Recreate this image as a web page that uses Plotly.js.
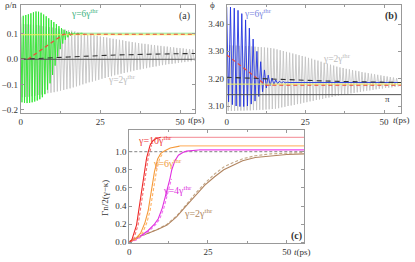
<!DOCTYPE html>
<html><head><meta charset="utf-8">
<script src="https://cdn.plot.ly/plotly-3.0.1.min.js"></script>
<style>html,body{margin:0;padding:0;background:#fff}#p{width:415px;height:262px}</style>
</head><body><div id="p"></div>
<script>
// ---------- panel (a): rho/n ----------
const tTop = [0,1,2,3,4,5,6,7,8,9,10,11,12,13,14,15,16,17,18,19,20,21,22,23,24,25,26,27,28,29,30,31,32,33,34,35,36,37,38,39,40,41,42,43,44,45,46,47,48,49,50,51,52,53,54];
const tBot = [0.5,1.5,2.5,3.5,4.5,5.5,6.5,7.5,8.5,9.5,10.5,11.5,12.5,13.5,14.5,15.5,16.5,17.5,18.5,19.5,20.5,21.5,22.5,23.5,24.5,25.5,26.5,27.5,28.5,29.5,30.5,31.5,32.5,33.5,34.5,35.5,36.5,37.5,38.5,39.5,40.5,41.5,42.5,43.5,44.5,45.5,46.5,47.5,48.5,49.5,50.5,51.5,52.5,53.5,54.5];
const grayA_top = [0.140,0.139,0.138,0.137,0.136,0.135,0.133,0.131,0.129,0.127,0.125,0.123,0.121,0.119,0.117,0.115,0.113,0.110,0.108,0.105,0.103,0.100,0.098,0.095,0.093,0.090,0.088,0.086,0.083,0.081,0.079,0.077,0.075,0.072,0.070,0.068,0.066,0.064,0.062,0.061,0.059,0.057,0.056,0.054,0.053,0.051,0.050,0.048,0.047,0.045,0.044,0.043,0.041,0.040,0.039];
const grayA_bot = [-0.150,-0.149,-0.148,-0.146,-0.144,-0.141,-0.139,-0.137,-0.134,-0.132,-0.130,-0.127,-0.124,-0.121,-0.118,-0.115,-0.111,-0.107,-0.103,-0.099,-0.095,-0.091,-0.088,-0.084,-0.081,-0.077,-0.074,-0.070,-0.067,-0.063,-0.060,-0.057,-0.054,-0.051,-0.048,-0.045,-0.042,-0.040,-0.037,-0.035,-0.032,-0.030,-0.028,-0.025,-0.023,-0.021,-0.019,-0.018,-0.016,-0.014,-0.012,-0.011,-0.009,-0.008,-0.006];
const greenTopT = [0,0.8,1.6,2.4,3.2,4,4.8,5.6,6.4,7.2,8,8.8,9.6,10.4,11.2,12,12.8,13.6,14.4,15.2,16,16.8,17.6,18.4,19.2];
const greenBotT = [0.4,1.2,2,2.8,3.6,4.4,5.2,6,6.8,7.6,8.4,9.2,10,10.8,11.6,12.4,13.2,14,14.8,15.6,16.4,17.2,18,18.8,19.6];
const green_top = [0.168,0.172,0.175,0.178,0.182,0.186,0.189,0.188,0.184,0.177,0.170,0.162,0.155,0.147,0.139,0.131,0.123,0.117,0.112,0.108,0.106,0.105,0.104,0.103,0.103];
const green_bot = [-0.170,-0.172,-0.173,-0.172,-0.170,-0.167,-0.163,-0.158,-0.150,-0.138,-0.120,-0.095,-0.062,-0.025,0.010,0.040,0.062,0.077,0.087,0.093,0.097,0.099,0.101,0.102,0.103];
const greenFlatT = [19.6, 54.7];
const greenFlat = [0.103, 0.103];
const yellowA_t = [0, 54.7];
const yellowA = [0.097, 0.097];
const redA_t = [0, 2.2, 13.4, 54.7];
const redA = [0, 0, 0.099, 0.099];
const blackA_t = [0, 5, 10, 15, 20, 25, 30, 40, 50, 54.7];
const blackA = [0, 0.002, 0.005, 0.009, 0.012, 0.015, 0.017, 0.020, 0.022, 0.023];
const zeroA_t = [0, 54.7];
const zeroA = [0, 0];

// ---------- panel (b): phi ----------
const grayB_top = [3.322,3.322,3.321,3.321,3.320,3.320,3.319,3.319,3.318,3.317,3.316,3.315,3.314,3.313,3.312,3.310,3.307,3.304,3.301,3.298,3.295,3.292,3.289,3.286,3.283,3.280,3.276,3.273,3.269,3.266,3.262,3.258,3.255,3.251,3.248,3.244,3.241,3.239,3.236,3.234,3.231,3.229,3.227,3.224,3.222,3.220,3.218,3.216,3.214,3.212,3.210,3.208,3.206,3.204,3.202];
const grayB_bot = [3.082,3.082,3.082,3.083,3.083,3.083,3.084,3.084,3.085,3.085,3.086,3.086,3.087,3.088,3.089,3.090,3.092,3.095,3.097,3.100,3.102,3.104,3.107,3.109,3.112,3.114,3.117,3.119,3.122,3.124,3.126,3.129,3.131,3.133,3.136,3.138,3.140,3.142,3.144,3.146,3.148,3.150,3.152,3.154,3.156,3.157,3.159,3.161,3.163,3.164,3.166,3.167,3.168,3.170,3.171];
const blueTopT = [0,1.2,2.4,3.6,4.8,6,7.2,8.4,9.6,10.8,12,13.2,14.4,15.6,16.8,18,19.2];
const blueBotT = [0.6,1.8,3,4.2,5.4,6.6,7.8,9,10.2,11.4,12.6,13.8,15,16.2,17.4,18.6,19.8];
const blue_top = [3.462,3.462,3.458,3.450,3.438,3.415,3.385,3.345,3.300,3.262,3.232,3.213,3.202,3.195,3.191,3.189,3.187];
const blue_bot = [3.115,3.105,3.100,3.098,3.098,3.100,3.107,3.118,3.135,3.152,3.166,3.175,3.179,3.182,3.184,3.185,3.186];
const blueFlatT = [19.8, 55.4];
const blueFlat = [3.186, 3.186];
const yellowB_t = [0, 55.4];
const yellowB = [3.180, 3.180];
const redB_t = [0, 12.5, 55.4];
const redB = [3.287, 3.176, 3.176];
const blackB_t = [0, 10, 20, 30, 40, 55.4];
const blackB = [3.205, 3.200, 3.196, 3.192, 3.189, 3.186];
const piB_t = [0, 55.4];
const piB = [Math.PI, Math.PI];

// ---------- panel (c): Gamma n / 2(gamma-kappa) ----------
const r10_t = [0, 0.8, 2.3, 3.9, 5.5, 6.6, 7.5, 8.5, 10];
const r10 = [0.0, 0.025, 0.19, 0.56, 0.93, 1.07, 1.12, 1.145, 1.157];
const r10d_t = [0, 1.3, 2.8, 4.4, 6.0, 7.1];
const r10d = [0.0, 0.025, 0.19, 0.56, 0.93, 1.07];
const r10a_t = [10, 55.5];
const r10a = [1.157, 1.157];
const o6_t = [0, 2, 3.6, 5, 6, 7, 8, 9, 10, 11.3, 13, 16];
const o6 = [0.0, 0.04, 0.1, 0.22, 0.35, 0.55, 0.78, 0.92, 0.98, 1.01, 1.04, 1.06];
const o6d_t = [0, 2.6, 4.2, 5.6, 6.6, 7.6, 8.6, 9.6, 10.6];
const o6d = [0.0, 0.04, 0.1, 0.22, 0.35, 0.55, 0.78, 0.92, 0.98];
const o6a_t = [16, 55.5];
const o6a = [1.062, 1.062];
const m4_t = [0, 2, 4, 6, 8, 9.2, 10.5, 11.9, 12.9, 13.5, 14.5, 15.6, 17, 18.2, 20, 22];
const m4 = [0, 0.03, 0.08, 0.13, 0.2, 0.26, 0.38, 0.56, 0.7, 0.8, 0.9, 0.96, 0.99, 1.005, 1.015, 1.018];
const m4d_t = [0, 2.5, 4.5, 6.5, 8.5, 9.7, 11, 12.4, 13.4];
const m4d = [0, 0.03, 0.08, 0.13, 0.2, 0.26, 0.38, 0.56, 0.7];
const m4a_t = [22, 55.5];
const m4a = [1.018, 1.018];
const b2_t = [0, 3, 6, 9, 12, 15, 18, 21, 24, 27, 30, 33, 36, 40, 45, 50, 55.5];
const b2 = [0.01, 0.06, 0.1, 0.14, 0.19, 0.28, 0.4, 0.52, 0.63, 0.72, 0.8, 0.85, 0.9, 0.935, 0.955, 0.968, 0.975];
const b2d = [0.01, 0.06, 0.1, 0.145, 0.2, 0.29, 0.41, 0.54, 0.65, 0.75, 0.83, 0.88, 0.92, 0.955, 0.975, 0.985, 0.99];
const one_t = [0, 55.5];
const one = [1, 1];

const xTickVals = [0, 25, 50];
const xTickText = ['0', '25', '50'];

function zig(tT, top, tB, bot) {
  const x = [], y = [];
  for (let i = 0; i < top.length; i++) {
    x.push(tT[i]); y.push(top[i]);
    if (i < bot.length) { x.push(tB[i]); y.push(bot[i]); }
  }
  return {x, y};
}
function line(x, y, xa, ya, color, width, dash) {
  return {x, y, xaxis: xa, yaxis: ya, type: 'scatter', mode: 'lines',
    line: {color, width, dash: dash || 'solid'}, hoverinfo: 'skip', showlegend: false};
}

const gA = zig(tTop, grayA_top, tBot, grayA_bot);
const grA = zig(greenTopT, green_top, greenBotT, green_bot);
const gB = zig(tTop, grayB_top, tBot, grayB_bot);
const blB = zig(blueTopT, blue_top, blueBotT, blue_bot);

const traces = [
  line(gA.x, gA.y, 'x', 'y', '#c4c4c4', 0.9),
  line(grA.x, grA.y, 'x', 'y', '#2ee62e', 0.9),
  line(greenFlatT, greenFlat, 'x', 'y', '#8fe88f', 1),
  line(yellowA_t, yellowA, 'x', 'y', '#f0f060', 1),
  line(redA_t, redA, 'x', 'y', '#ee4a3a', 1.2, '4px,3px'),
  line(blackA_t, blackA, 'x', 'y', '#333333', 1.1, '5px,4px'),
  line(zeroA_t, zeroA, 'x', 'y', '#555555', 1),

  line(gB.x, gB.y, 'x2', 'y2', '#c4c4c4', 0.9),
  line(blB.x, blB.y, 'x2', 'y2', '#2233e0', 0.9),
  line(blueFlatT, blueFlat, 'x2', 'y2', '#3344e0', 1),
  line(piB_t, piB, 'x2', 'y2', '#555555', 1),
  line(yellowB_t, yellowB, 'x2', 'y2', '#f0f060', 1),
  line(redB_t, redB, 'x2', 'y2', '#ee4a3a', 1.2, '4px,3px'),
  line(blackB_t, blackB, 'x2', 'y2', '#333333', 1.1, '5px,4px'),

  line(one_t, one, 'x3', 'y3', '#9a9a9a', 1.2, '3px,2px'),
  line(r10a_t, r10a, 'x3', 'y3', '#f5a0a8', 1.3),
  line(o6a_t, o6a, 'x3', 'y3', '#ffbb77', 1.3),
  line(m4a_t, m4a, 'x3', 'y3', '#ee44ee', 1.3),
  line(b2_t, b2d, 'x3', 'y3', '#c4a888', 1.1, '3px,2px'),
  line(b2_t, b2, 'x3', 'y3', '#b08460', 1.1),
  line(m4d_t, m4d, 'x3', 'y3', '#f070f0', 1.1, '3px,2px'),
  line(m4_t, m4, 'x3', 'y3', '#e030e0', 1.1),
  line(o6d_t, o6d, 'x3', 'y3', '#ffb060', 1.1, '3px,2px'),
  line(o6_t, o6, 'x3', 'y3', '#f59a3a', 1.1),
  line(r10d_t, r10d, 'x3', 'y3', '#f57070', 1.1, '3px,2px'),
  line(r10_t, r10, 'x3', 'y3', '#ee2a2a', 1.1)
];

const W = 415, H = 262;
const px = v => v / W;
const py = v => 1 - v / H;
const font = {family: 'Liberation Serif, Times New Roman, serif', size: 9, color: '#333'};
function ax(domain, range, extra) {
  return Object.assign({domain, range, showline: true, mirror: 'ticks', linecolor: '#999', linewidth: 1,
    ticks: 'inside', ticklen: 3, tickcolor: '#999', tickwidth: 1, showgrid: false, zeroline: false,
    tickfont: font, fixedrange: true}, extra || {});
}
const xt = {tickmode: 'array', tickvals: xTickVals, ticktext: xTickText,
  minor: {dtick: 12.5, tick0: 0, ticks: 'inside', ticklen: 2, tickcolor: '#999', showgrid: false}};

function ann(text, x, y, color, size, opts) {
  return Object.assign({text, x: px(x), y: py(y), xref: 'paper', yref: 'paper', showarrow: false,
    font: {family: 'Liberation Serif, Times New Roman, serif', size: size || 9, color: color || '#333'},
    xanchor: 'center', yanchor: 'middle'}, opts || {});
}

const layout = {
  width: W, height: H, margin: {l: 0, r: 0, t: 0, b: 0},
  paper_bgcolor: '#fff', plot_bgcolor: '#fff', showlegend: false,
  xaxis: ax([px(20.7), px(195)], [0, 54.7], Object.assign({anchor: 'y'}, xt)),
  yaxis: ax([py(113), py(5)], [-0.2123, 0.2146], {anchor: 'x', tickmode: 'array', tickvals: [-0.2, -0.1, 0, 0.1], tickformat: '.1f'}),
  xaxis2: ax([px(226.7), px(401)], [0, 55.4], Object.assign({anchor: 'y2'}, xt)),
  yaxis2: ax([py(112.7), py(5)], [3.0755, 3.4695], {anchor: 'x2', tickmode: 'array', tickvals: [3.1, 3.2, 3.3, 3.4], tickformat: '.2f'}),
  xaxis3: ax([px(129.3), px(304)], [0, 55.5], Object.assign({anchor: 'y3'}, xt)),
  yaxis3: ax([py(243.3), py(130)], [-0.011, 1.238], {anchor: 'x3', tickmode: 'array', tickvals: [0, 0.2, 0.4, 0.6, 0.8, 1.0], tickformat: '.1f'}),
  annotations: [
    ann('ρ/n', 11, 5, '#333', 9),
    ann('γ=6γ<sup>thr</sup>', 85, 13, '#3cb27e', 9.5),
    ann('γ=2γ<sup>thr</sup>', 122, 79, '#bdbdbd', 9.5),
    ann('(a)', 184, 16, '#333', 10),
    ann('<i>t</i>(ps)', 186, 120, '#333', 9, {xanchor: 'left'}),

    ann('ϕ', 212, 5, '#333', 9),
    ann('γ=6γ<sup>thr</sup>', 258, 13, '#7b86e0', 9.5),
    ann('γ=2γ<sup>thr</sup>', 337, 58, '#bdbdbd', 9.5),
    ann('<b>(b)</b>', 391, 16, '#333', 10),
    ann('π', 387, 99, '#333', 9),
    ann('<i>t</i>(ps)', 391, 120, '#333', 9, {xanchor: 'left'}),

    ann('γ=10γ<sup>thr</sup>', 155, 140, '#ee3a3a', 10),
    ann('γ=6γ<sup>thr</sup>', 167, 163, '#f09a40', 10),
    ann('γ=4γ<sup>thr</sup>', 177, 190, '#dd33dd', 10),
    ann('γ=2γ<sup>thr</sup>', 198, 213, '#b08860', 10),
    ann('<b>(c)</b>', 296, 236, '#333', 10),
    ann('<i>t</i>(ps)', 292, 252, '#333', 9, {xanchor: 'left'}),
    ann('Γn/2(γ−κ)', 105, 198, '#333', 9, {textangle: -90})
  ]
};

Plotly.newPlot('p', traces, layout, {staticPlot: true, displayModeBar: false});
</script>
</body></html>
